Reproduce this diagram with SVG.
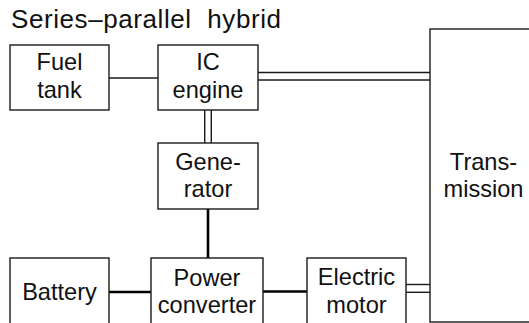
<svg xmlns="http://www.w3.org/2000/svg" width="529" height="323" viewBox="0 0 529 323">
<style>
.box{fill:#fff;stroke:#1a1a1a;stroke-width:1.4}
.thin{stroke:#1a1a1a;stroke-width:1.4;fill:none}
.thick{stroke:#000;stroke-width:2.6;fill:none}
.lbl{font-family:"Liberation Sans",Arial,sans-serif;font-size:23.6px;fill:#111;text-anchor:middle}
.title{font-family:"Liberation Sans",Arial,sans-serif;font-size:26px;fill:#111}
</style>
<rect width="529" height="323" fill="#fff"/>
<text class="title" x="11" y="28" textLength="270" lengthAdjust="spacing" xml:space="preserve">Series–parallel  hybrid</text>
<g id="connectors">
<line class="thin" x1="109" y1="78" x2="158" y2="78"/>
<line class="thin" x1="258" y1="72.5" x2="430" y2="72.5"/>
<line class="thin" x1="258" y1="80" x2="430" y2="80"/>
<line class="thin" x1="204.7" y1="110" x2="204.7" y2="143"/>
<line class="thin" x1="211.3" y1="110" x2="211.3" y2="143"/>
<line class="thick" x1="208" y1="209" x2="208" y2="258"/>
<line class="thick" x1="109" y1="292" x2="151" y2="292"/>
<line class="thick" x1="263" y1="291.5" x2="307" y2="291.5"/>
<line class="thin" x1="405.5" y1="284.5" x2="430" y2="284.5"/>
<line class="thin" x1="405.5" y1="292.3" x2="430" y2="292.3"/>
</g>
<g id="fuel-tank">
<rect class="box" x="10" y="45" width="99" height="65"/>
<text class="lbl" x="59.5" y="70">Fuel</text>
<text class="lbl" x="59.5" y="98">tank</text>
</g>
<g id="ic-engine">
<rect class="box" x="158" y="45" width="100" height="65"/>
<text class="lbl" x="208" y="70">IC</text>
<text class="lbl" x="208" y="98">engine</text>
</g>
<g id="generator">
<rect class="box" x="158" y="143" width="100" height="66"/>
<text class="lbl" x="208" y="170">Gene-</text>
<text class="lbl" x="208" y="197">rator</text>
</g>
<g id="transmission">
<rect class="box" x="430" y="29" width="110" height="293"/>
<text class="lbl" x="483.5" y="169.5">Trans-</text>
<text class="lbl" x="483.5" y="197">mission</text>
</g>
<g id="battery">
<rect class="box" x="10" y="258" width="99" height="80"/>
<text class="lbl" x="59.5" y="300">Battery</text>
</g>
<g id="power-converter">
<rect class="box" x="151" y="258" width="112" height="80"/>
<text class="lbl" x="207" y="286">Power</text>
<text class="lbl" x="207" y="313">converter</text>
</g>
<g id="electric-motor">
<rect class="box" x="307" y="258" width="99" height="80"/>
<text class="lbl" x="356.5" y="285">Electric</text>
<text class="lbl" x="356.5" y="313">motor</text>
</g>
</svg>
